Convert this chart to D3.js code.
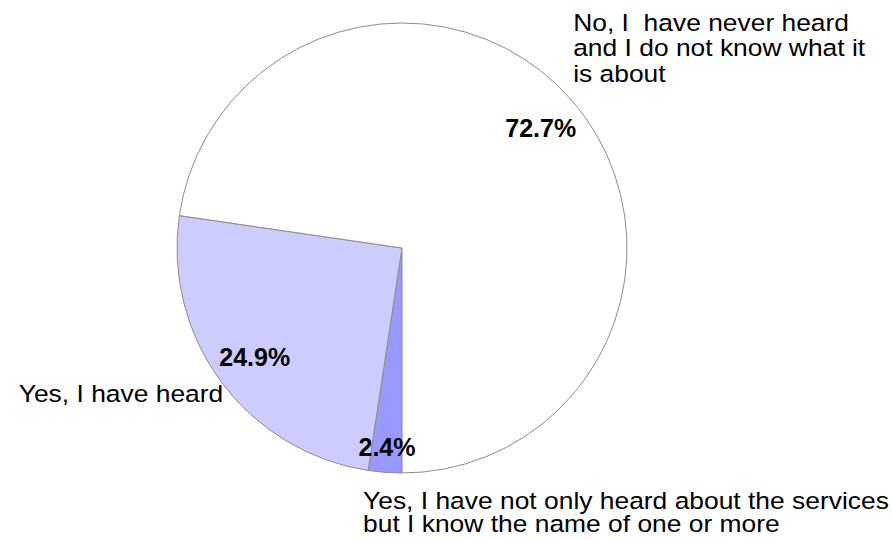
<!DOCTYPE html>
<html>
<head>
<meta charset="utf-8">
<script src="https://cdn.jsdelivr.net/npm/d3@7"></script>
<style>
  html, body { margin: 0; padding: 0; background: #fff; }
  svg { display: block; font-family: "Liberation Sans", Arial, sans-serif; }
</style>
</head>
<body>
<svg id="chart" width="892" height="540"></svg>
<script>
// Survey answers, in drawing order (clockwise from 6 o'clock)
const categories = [
  "Yes, I have not only heard about the services but I know the name of one or more",
  "Yes, I have heard",
  "No, I  have never heard and I do not know what it is about"
];
const values = [2.4, 24.9, 72.7];
const valueLabels = ["2.4%", "24.9%", "72.7%"];
const categoryLines = [
  ["Yes, I have not only heard about the services", "but I know the name of one or more"],
  ["Yes, I have heard"],
  ["No, I  have never heard", "and I do not know what it", "is about"]
];
const colors = ["#9999ff", "#ccccff", "#ffffff"];

const svg = d3.select("#chart");
const cx = 402, cy = 248, R = 225;
const g = svg.append("g").attr("transform", `translate(${cx},${cy})`);

const pie = d3.pie().sort(null).value(d => d)
  .startAngle(Math.PI).endAngle(3 * Math.PI);
const arcs = pie(values);
const arc = d3.arc().innerRadius(0).outerRadius(R);

g.selectAll("path.slice")
  .data(arcs)
  .enter().append("path")
  .attr("class", "slice")
  .attr("d", arc)
  .attr("fill", (d, i) => colors[i])
  .attr("stroke", "#8c8c8c")
  .attr("stroke-width", 1);

// Percentage labels inside the slices; thin slices push their label outward
const mid = d => (d.startAngle + d.endAngle) / 2;
const pt = (a, r) => [Math.sin(a) * r, -Math.cos(a) * r];

g.selectAll("text.pct")
  .data(arcs)
  .enter().append("text")
  .attr("class", "pct")
  .each(function (d) {
    const span = d.endAngle - d.startAngle;
    const r = span < 0.3 ? R * 0.885 : R * 0.815;
    const [x, y] = pt(mid(d), r);
    d3.select(this).attr("x", x).attr("y", y);
  })
  .attr("text-anchor", "middle")
  .attr("dy", "0.36em")
  .attr("font-size", 25)
  .attr("font-weight", "bold")
  .attr("fill", "#000")
  .text((d, i) => valueLabels[i]);

// Category labels placed beside each slice's outer edge (slightly condensed vertically)
const fs = 26.4, sy = 0.9;
arcs.forEach((d, i) => {
  const a = mid(d);
  const [ox, oy] = pt(a, R);
  const lines = categoryLines[i];
  let anchor, x, y0, step;
  if (Math.cos(a) > 0.5) {            // upper slice: text sits above-right
    anchor = "start"; step = 25.5; x = ox + 1; y0 = oy - 19 - (lines.length - 1) * step;
  } else if (Math.cos(a) < -0.95) {   // bottom slice: text sits below
    anchor = "start"; step = 23; x = ox - 22; y0 = oy + 37;
  } else {                            // left slice: text sits to the left
    anchor = "end"; step = 23; x = ox + 2; y0 = oy + 20;
  }
  const t = g.append("text")
    .attr("class", "cat")
    .attr("transform", `translate(${x},${y0}) scale(1,${sy})`)
    .attr("text-anchor", anchor)
    .attr("font-size", fs)
    .attr("fill", "#000")
    .attr("xml:space", "preserve")
    .style("white-space", "pre");
  lines.forEach((ln, k) => {
    t.append("tspan").attr("x", 0).attr("y", k * step / sy).text(ln);
  });
});
</script>
</body>
</html>
